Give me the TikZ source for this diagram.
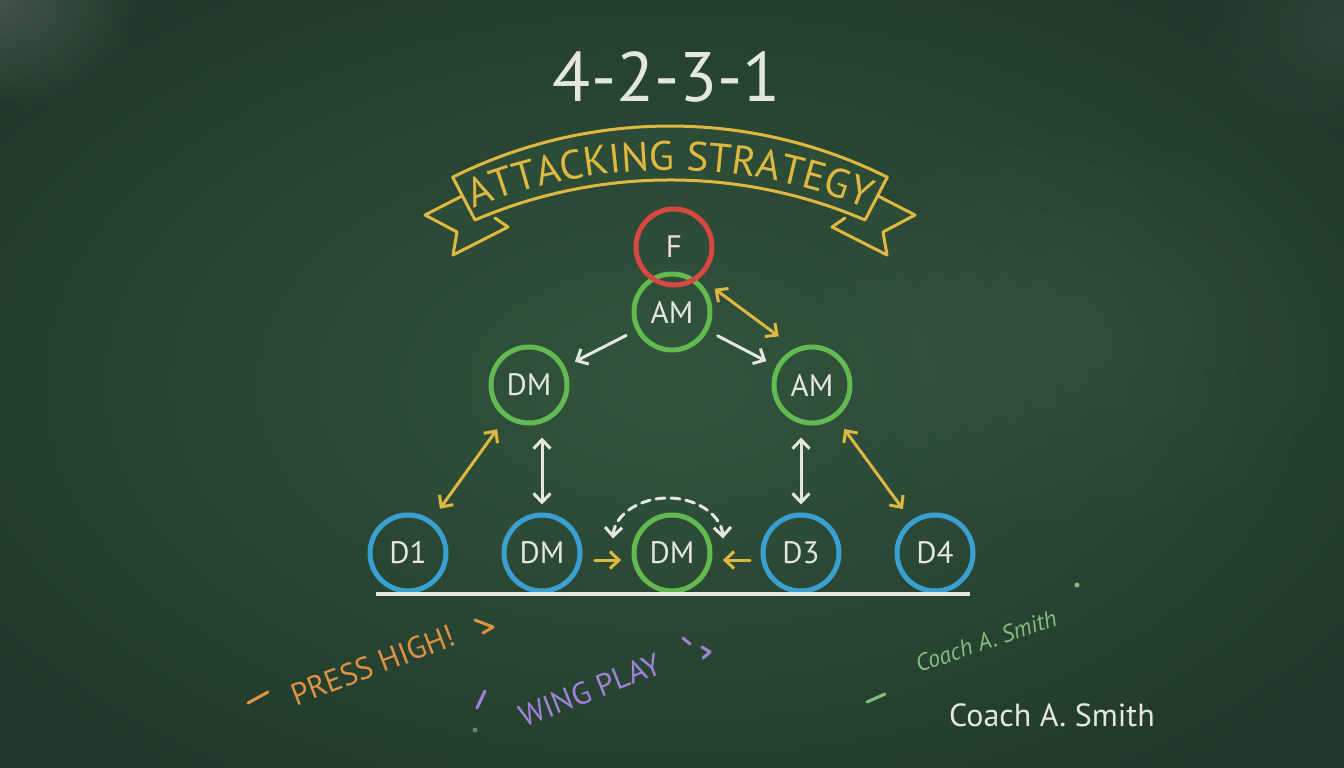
\documentclass[tikz,border=0pt]{standalone}
\usepackage{fontspec}
\setmainfont{PT Sans}
\usetikzlibrary{arrows.meta,decorations.text,fadings}

\definecolor{board}{RGB}{45,76,55}
\definecolor{boardIn}{RGB}{50,84,61}
\definecolor{boardOut}{RGB}{33,57,42}
\definecolor{chalkW}{RGB}{228,230,224}
\definecolor{chalkY}{RGB}{222,184,64}
\definecolor{chalkR}{RGB}{214,72,64}
\definecolor{chalkG}{RGB}{98,186,80}
\definecolor{chalkB}{RGB}{58,160,210}
\definecolor{chalkO}{RGB}{222,146,66}
\definecolor{chalkP}{RGB}{160,130,214}
\definecolor{chalkLG}{RGB}{130,190,130}
\definecolor{chalkPink}{RGB}{240,215,220}
\newcommand\bannerfont{\fontsize{41}{44}\selectfont}
\tikzfading[name=smudgefade, inner color=transparent!0, outer color=transparent!100]

\begin{document}
\begin{tikzpicture}[x=1pt,y=1pt,
  >={Straight Barb[length=9pt,width=17pt]},
  player/.style={circle, draw=#1, line width=5pt, minimum size=76pt,
    inner sep=0pt, text=chalkW, font=\fontsize{31}{33}\selectfont},
  wline/.style={draw=chalkW, line width=3pt, line cap=round},
  yline/.style={draw=chalkY, line width=3pt, line cap=round},
  chalkmark/.style={line width=3pt, line cap=round, line join=round},
  note/.style={font=\fontsize{31}{33}\selectfont}
]
\useasboundingbox (0,0) rectangle (1344,-768);
\shade[inner color=boardIn, outer color=boardOut] (-150,100) rectangle (1494,-868);
\begin{scope}
  \clip (0,0) rectangle (1344,-768);
  \fill[white, opacity=0.14, path fading=smudgefade] (0,0) ellipse[x radius=140, y radius=110];
  \fill[white, opacity=0.05, path fading=smudgefade] (1344,-30) ellipse[x radius=150, y radius=110];
  \fill[white, opacity=0.04, path fading=smudgefade] (1080,-330) ellipse[x radius=300, y radius=220];
\end{scope}

% title
\node[text=chalkW, font=\fontsize{70}{72}\selectfont] (title) at (667,-77) {4-2-3-1};

% banner tails
\draw[yline, fill=board, line join=round]
  (462,-196) -- (425,-215) -- (457,-232) -- (453,-255) -- (508,-227) -- (495,-218);
\draw[yline, fill=board, line join=round]
  (878,-196) -- (915,-215) -- (883,-232) -- (887,-255) -- (832,-227) -- (845,-218);
% banner band
\draw[yline, fill=board, line join=round]
  (670,-613) ++(116.5:487) arc[start angle=116.5, end angle=63.5, radius=487]
  -- (865,-220) arc[start angle=66.8, end angle=113.2, radius=495] -- cycle;
\path[decorate, decoration={text along path, text color=chalkY,
    text={|\bannerfont|ATTACKING STRATEGY}, text align=center}]
  (670,-689) ++(111.5:519) arc[start angle=111.5, end angle=68.5, radius=519];

% players
\node[player=chalkG] (amT) at (672,-312) {AM};
\node[player=chalkR, text=chalkPink] (F) at (674,-247) {F};
\node[player=chalkG] (dmL) at (529,-385) {DM};
\node[player=chalkG] (amR) at (812,-385) {AM};
\node[player=chalkB] (d1) at (408,-553) {D1};
\node[player=chalkB] (dmB) at (542,-553) {DM};
\node[player=chalkG] (dmG) at (672,-553) {DM};
\node[player=chalkB] (d3) at (801,-553) {D3};
\node[player=chalkB] (d4) at (935,-553) {D4};

% baseline
\coordinate (baseL) at (376,-594);
\coordinate (baseR) at (970,-594);
\draw[chalkW, line width=3.5pt] (baseL) -- (baseR);

% connectors
\draw[yline, <->, shorten <=18pt, shorten >=20pt] (F.-50) -- (amR.115);
\draw[wline, ->, shorten <=11pt, shorten >=11pt] (amT) -- (dmL);
\draw[wline, ->, shorten <=11pt, shorten >=11pt] (amT) -- (amR);
\draw[yline, <->, shorten <=14pt, shorten >=14pt] (dmL) -- (d1);
\draw[wline, <->, shorten <=12pt, shorten >=8pt] (dmL.south -| dmB) -- (dmB);
\draw[wline, <->, shorten <=12pt, shorten >=8pt] (amR.south -| d3) -- (d3);
\draw[yline, <->, shorten <=14pt, shorten >=14pt] (amR) -- (d4);
\draw[yline, ->, shorten <=13pt, shorten >=11pt] (dmB.-10) -- (dmG.190);
\draw[yline, ->, shorten <=11pt, shorten >=11pt] (d3.190) -- (dmG.-10);
\draw[wline, <->, dash pattern=on 9pt off 6pt]
  (dmG.center) ++(-59,14.5) arc[start angle=178, end angle=2, x radius=55, y radius=42];

% notes
\node[note, text=chalkO, rotate=21] (press) at (373,-665) {PRESS HIGH!};
\draw[chalkO, chalkmark] (248,-703) -- (268,-692);
\draw[chalkO, chalkmark] (475,-620) -- (493,-627) -- (483,-633);

\node[note, text=chalkP, rotate=21.5] (wing) at (590,-690) {WING PLAY};
\draw[chalkP, chalkmark] (477,-708) -- (485,-691);
\fill[gray!70, opacity=0.6] (475,-730) circle[radius=2.5pt];
\draw[chalkP, chalkmark] (683,-638) -- (690,-644);
\draw[chalkP, chalkmark] (702,-647) -- (710,-652) -- (703,-658);

\node[text=chalkLG, rotate=19, font=\itshape\fontsize{24}{26}\selectfont] (scrawl) at (986,-641) {Coach A. Smith};
\fill[chalkLG] (1077,-585) circle[radius=2.5pt];
\draw[chalkLG, chalkmark] (867,-702) -- (885,-694);

\node[text=chalkW, font=\fontsize{32}{34}\selectfont] (coach) at (1052,-715) {Coach A. Smith};
\end{tikzpicture}
\end{document}
